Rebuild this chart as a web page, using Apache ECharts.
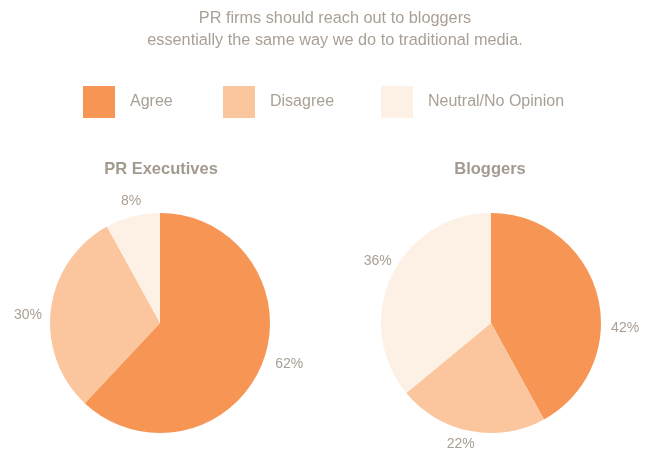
<!DOCTYPE html>
<html>
<head>
<meta charset="utf-8">
<script src="https://cdn.jsdelivr.net/npm/echarts@6/dist/echarts.min.js"></script>
<style>
  html, body { margin: 0; padding: 0; background: #fff; }
  #chart { width: 650px; height: 449px; }
</style>
</head>
<body>
<div id="chart"></div>
<script>
// Survey answers, in percent
const categories = ['Agree', 'Disagree', 'Neutral/No Opinion'];
const prExecutives = [62, 30, 8];
const bloggers = [42, 22, 36];
const groupTitles = ['PR Executives', 'Bloggers'];
const chartTitle = 'PR firms should reach out to bloggers\nessentially the same way we do to traditional media.';

const colors = ['#F79654', '#FBC69E', '#FDF0E4'];
const textColor = '#A99F94';
const font = '"Liberation Sans", Arial, sans-serif';

// Small hand tweaks to the outside label placement, per series then per slice
const labelNudges = [
  [[-5, -5], [10, 8], [17, -2]],
  [[-5, 36], [12, 3], [18, -9]]
];

function pieData(values) {
  return categories.map((name, i) => ({ name, value: values[i] }));
}

function legendFor(name, left) {
  return {
    data: [name],
    left: left,
    top: 81,
    itemWidth: 32,
    itemHeight: 32,
    itemGap: 0,
    icon: 'rect',
    textStyle: { color: textColor, fontSize: 16, fontFamily: font, padding: [0, 0, 0, 10] },
    selectedMode: false
  };
}

function pieSeries(values, cx, idx) {
  return {
    type: 'pie',
    center: [cx, 323],
    radius: 110,
    startAngle: 90,
    clockwise: true,
    silent: true,
    animation: false,
    data: pieData(values),
    label: {
      show: true,
      position: 'outside',
      formatter: '{c}%',
      color: textColor,
      fontSize: 14,
      fontFamily: font,
      overflow: 'none',
      edgeDistance: 0
    },
    labelLine: { show: false, length: 14, length2: 0 },
    labelLayout: function (params) {
      const n = labelNudges[idx][params.dataIndex];
      return { dx: n[0], dy: n[1] };
    },
    itemStyle: { borderWidth: 0 }
  };
}

function groupTitle(text, cx) {
  return {
    text: text,
    left: cx - 5,
    top: 156,
    textAlign: 'center',
    textStyle: { color: '#A39A8F', fontSize: 16.5, fontWeight: 'bold', fontFamily: font }
  };
}

const chart = echarts.init(document.getElementById('chart'), null, { renderer: 'canvas' });
chart.setOption({
  color: colors,
  animation: false,
  title: [
    {
      text: chartTitle,
      left: 330,
      top: 3,
      textAlign: 'center',
      textStyle: { color: textColor, fontSize: 16.3, fontWeight: 'normal', fontFamily: font, lineHeight: 22, align: 'center' }
    },
    groupTitle(groupTitles[0], 161),
    groupTitle(groupTitles[1], 490)
  ],
  legend: [
    legendFor(categories[0], 78),
    legendFor(categories[1], 218),
    legendFor(categories[2], 376)
  ],
  series: [
    pieSeries(prExecutives, 160, 0),
    pieSeries(bloggers, 491, 1)
  ]
});
</script>
</body>
</html>
